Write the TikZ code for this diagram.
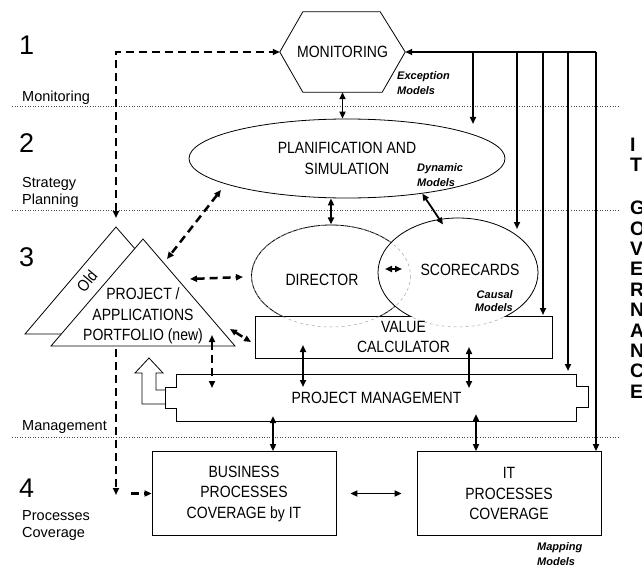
\documentclass[tikz,border=0pt]{standalone}
\usepackage{fontspec}
\setmainfont{Liberation Sans}
\newfontfamily\narrowfont{Liberation Sans}[FakeStretch=0.86]
\usetikzlibrary{arrows.meta}
\usetikzlibrary{shapes.geometric}

\tikzset{
  txt/.style={font=\narrowfont\fontsize{16.3}{20.5}\selectfont, align=center, inner sep=0pt},
  note/.style={font=\fontsize{11}{15}\selectfont\bfseries\itshape, align=left, inner sep=0pt},
  lvl/.style={font=\fontsize{27}{27}\selectfont, anchor=west, inner sep=0pt},
  lvlname/.style={font=\fontsize{14.5}{17}\selectfont, anchor=west, align=left, inner sep=0pt},
  box/.style={draw, line width=0.8pt, txt},
  outline/.style={line width=0.8pt},
  sep/.style={black!70, dotted, line width=0.6pt},
  flows/.style={line width=1.8pt},
  dflow/.style={line width=2.5pt, dash pattern=on 8pt off 5pt},
  hidden/.style={gray!70, dashed, line width=0.5pt},
  gov/.style={font=\fontsize{19.5}{19.5}\selectfont\bfseries, anchor=west, inner sep=0pt}
}

\begin{document}
\begin{tikzpicture}[x=1pt,y=-1pt,>={Triangle[length=7pt,width=6pt]}]
\useasboundingbox (0,0) rectangle (642,567);

% level separators
\foreach \y in {106,210,437}
  \draw[sep] (12,\y) -- (618,\y);

% level labels
\node[lvl] (l1) at (19,45) {1};
\node[lvlname] (l1name) at (22,98) {Monitoring};
\node[lvl] (l2) at (19,143) {2};
\node[lvlname] (l2name) at (22,192) {Strategy\\Planning};
\node[lvl] (l3) at (19,257) {3};
\node[lvlname] (l3name) at (22,427) {Management};
\node[lvl] (l4) at (19,488) {4};
\node[lvlname] (l4name) at (22,526) {Processes\\Coverage};

% monitoring hexagon
\node[txt, minimum width=125pt, minimum height=80pt] (mon) at (342.5,52) {MONITORING};
\draw[outline] (mon.west) -- ([xshift=23pt]mon.north west) -- ([xshift=-25pt]mon.north east)
  -- (mon.east) -- ([xshift=-23pt]mon.south east) -- ([xshift=23pt]mon.south west) -- cycle;
\node[note, anchor=west] (excm) at (397,83) {Exception\\Models};

% planification
\node[txt, draw, outline, ellipse, minimum width=316pt, minimum height=79pt] (plan) at (347,158.5) {PLANIFICATION AND\\SIMULATION};
\node[note, anchor=west] (dynm) at (417,175.5) {Dynamic\\Models};

% value calculator
\node[box, minimum width=297pt, minimum height=42pt] (val) at (403.5,337) {VALUE\\CALCULATOR};

% director and scorecards
\coordinate (dir) at (331,276);
\coordinate (score) at (458,272.5);
\draw[hidden] (dir) ellipse [x radius=79.5, y radius=51];
\draw[hidden] (score) ellipse [x radius=80, y radius=54.5];
\begin{scope}
  \clip (0,0) rectangle (642,316);
  \draw[outline] (dir) ellipse [x radius=79.5, y radius=51];
  \fill[white] (score) ellipse [x radius=80, y radius=54.5];
  \draw[hidden] (dir) ellipse [x radius=79.5, y radius=51];
  \draw[outline] (score) ellipse [x radius=80, y radius=54.5];
\end{scope}
\node[txt] (dirtxt) at (322,280) {DIRECTOR};
\node[txt] (scoretxt) at (470,270) {SCORECARDS};
\node[note, align=right, anchor=east, font=\fontsize{11}{13}\selectfont\bfseries\itshape] (causm) at (513,301.5) {Causal\\Models};

% project management
\node[txt, minimum width=399pt, minimum height=46pt] (pm) at (376.5,398) {PROJECT MANAGEMENT};
\draw[outline] (pm.north west) -- (pm.north east) -- ++(0,12) -- ++(12,0) -- ++(0,21) -- ++(-12,0)
  |- (pm.south west) -- ++(0,-13) -- ++(-11,0) -- ++(0,-21) -- ++(11,0) -- cycle;
\draw[outline] (166,404) -| (142,373) -- (135,373) -- (149,358) -- (163,373) -- (156,373) |- (166,390);

% coverage boxes
\node[box, minimum width=184pt, minimum height=84pt] (biz) at (244,493.5) {BUSINESS\\PROCESSES\\COVERAGE by IT};
\node[box, minimum width=184pt, minimum height=84pt] (itp) at (509,493.5) {IT\\PROCESSES\\COVERAGE};
\node[note, anchor=west] (mapm) at (537,554.5) {Mapping\\Models};

% portfolio triangles
\draw[outline, fill=white] (116,227) -- (25,334) -- (209,334) -- cycle;
\draw[outline, fill=white] (143,239) -- (51,346) -- (235,346) -- cycle;
\node[txt, rotate=50] (old) at (87,281) {Old};
\node[txt] (port) at (143,316) {PROJECT /\\APPLICATIONS\\PORTFOLIO (new)};

% solid connectors
\draw[flows,<->] (mon.south) -- (mon.south |- plan.north);
\draw[flows,<->] (plan.south -| dir) -- ++(0,26);
\draw[flows,<->] (plan.-25) -- ([shift={(-15,-48)}]score);
\draw[flows,<->] (385,269) -- (402,269);
\draw[flows,<->] (303,345) -- (303,387);
\draw[flows,<->] (469,347) -- (469,388);
\draw[flows,<->] ([xshift=29pt]biz.north) -- ++(0,-35);
\draw[flows,<->] ([xshift=-33pt]itp.north) -- ++(0,-37);
\draw[flows,<->] ([xshift=14pt]biz.east) -- ([xshift=-15pt]itp.west);

% feedback bus to monitoring
\coordinate (bus) at (596,52);
\draw[flows,->] (bus) -- (mon.east);
\foreach \x/\y in {473/124, 517/229, 543/315, 568/371}
  \draw[flows,->] (\x,52) -- (\x,\y);
\draw[flows,->] (bus) -- (bus |- itp.north);

% dashed connectors
\draw[dflow,<->] (116,218) |- (mon.west);
\draw[dflow,<->] (221,190) -- (167,259);
\draw[dflow,<->] (190,279) -- (243,277);
\draw[dflow,<->] (230,329) -- (251,342);
\draw[dflow,<->] (212,335) -- (212,388);
\draw[dflow,->] (116,349) -- (116,495);
\draw[dflow,->] (131,493.5) -- (biz.west);

% side title
\foreach \l [count=\i] in {I,T}
  \node[gov] (it\i) at (630,125+20*\i) {\l};
\foreach \l [count=\i] in {G,O,V,E,R,N,A,N,C,E}
  \node[gov] (gv\i) at (630,187.6+20.4*\i) {\l};
\end{tikzpicture}
\end{document}
